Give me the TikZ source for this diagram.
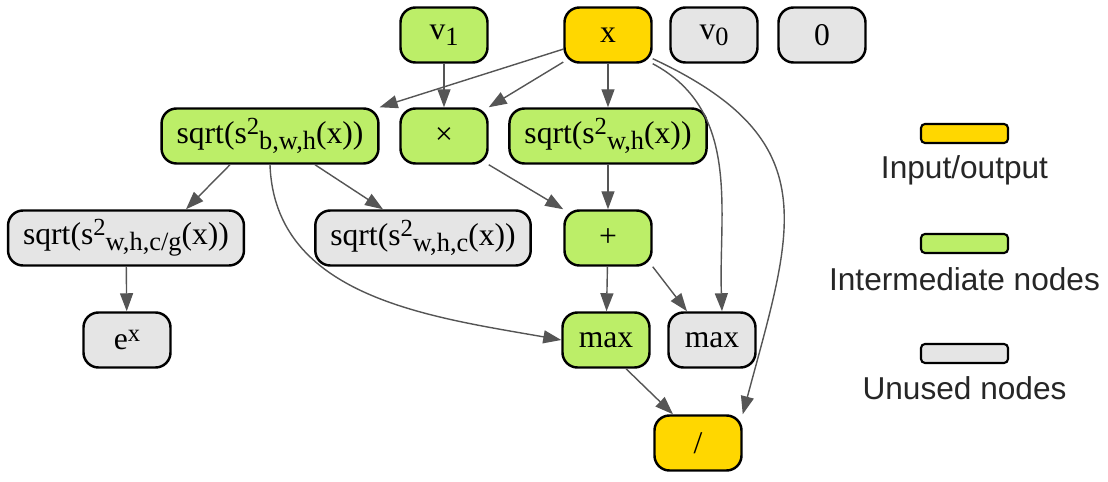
\documentclass[tikz,border=0pt]{standalone}
\usepackage{fontspec}
\setmainfont{Liberation Serif}
\newfontfamily\legendfont{Liberation Sans}
\usetikzlibrary{arrows.meta}
\definecolor{ioyellow}{HTML}{FFD700}
\definecolor{midgreen}{HTML}{BCEE68}
\definecolor{unusedgray}{HTML}{E5E5E5}
\definecolor{edgegray}{HTML}{555555}
\newcommand\nsub[1]{\raisebox{-3.5pt}{\fontsize{15}{15}\selectfont #1}}
\newcommand\nsup[1]{\raisebox{5pt}{\fontsize{14}{14}\selectfont #1}}

\begin{document}
\begin{tikzpicture}[
  op/.style={draw=black,line width=1.4pt,rounded corners=0.3cm,minimum width=1.74cm,
    minimum height=1.1cm,inner xsep=0.3cm,font=\fontsize{18}{21}\selectfont},
  io/.style={op,fill=ioyellow},
  mid/.style={op,fill=midgreen},
  unused/.style={op,fill=unusedgray},
  edge/.style={draw=edgegray,line width=0.8pt,-{Triangle[length=0.36cm,width=0.26cm]}},
  key/.style={draw=black,line width=1.2pt,rounded corners=0.08cm,minimum width=1.74cm,
    minimum height=0.38cm,inner sep=0pt},
  keytext/.style={font=\legendfont\fontsize{18}{22}\selectfont,text=black!85}]
\useasboundingbox (0,0) rectangle (22.16,9.64);

% top row
\node[mid]    (v1)   at (8.88,8.94)  {v\nsub{1}};
\node[io]     (x)    at (12.16,8.94) {x};
\node[unused] (v0)   at (14.28,8.94) {v\nsub{0}};
\node[unused] (zero) at (16.44,8.94) {0};

\node[mid] (sqrtbwh) at (5.40,6.92)  {sqrt(s\nsup{2}\nsub{b,w,h}(x))};
\node[mid] (times)   at (8.88,6.92)  {×};
\node[mid] (sqrtwh)  at (12.16,6.92) {sqrt(s\nsup{2}\nsub{w,h}(x))};

\node[unused] (sqrtcg) at (2.52,4.88)  {sqrt(s\nsup{2}\nsub{w,h,c/g}(x))};
\node[unused] (sqrtc)  at (8.46,4.88)  {sqrt(s\nsup{2}\nsub{w,h,c}(x))};
\node[mid]    (plus)   at (12.16,4.88) {+};

\node[unused] (ex)   at (2.54,2.84)  {e\nsup{x}};
\node[mid]    (maxg) at (12.12,2.84) {max};
\node[unused] (maxu) at (14.24,2.84) {max};

\node[io] (div) at (13.96,0.78) {/};

% connectors
\draw[edge] (x) -- (sqrtbwh.north east);
\draw[edge] (x) -- (times.north east);
\draw[edge] (x) -- (sqrtwh);
\draw[edge] (v1) -- (times);
\draw[edge] (x.south east) to[out=-28,in=92] ([xshift=0.2cm]maxu.north);
\draw[edge] ([yshift=0.1cm]x.south east) to[out=-25,in=75,looseness=1.35] (div.north east);
\draw[edge] ([xshift=-0.8cm]sqrtbwh.south) -- ([xshift=1.2cm]sqrtcg.north);
\draw[edge] ([xshift=0.9cm]sqrtbwh.south) -- ([xshift=-0.8cm]sqrtc.north);
\draw[edge] (sqrtbwh.south) to[out=-88,in=170] (maxg.west);
\draw[edge] (times.south east) -- (plus.north west);
\draw[edge] (sqrtwh) -- (plus);
\draw[edge] (sqrtcg) -- (ex);
\draw[edge] (plus) -- (maxg);
\draw[edge] (plus.south east) -- ([xshift=-0.5cm]maxu.north);
\draw[edge] ([xshift=0.4cm]maxg.south) -- ([xshift=-0.5cm]div.north);

% legend
\node[key,fill=ioyellow]   (keyio)     at (19.29,6.97) {};
\node[keytext]             (keyiot)    at (19.29,6.24) {Input/output};
\node[key,fill=midgreen]   (keymid)    at (19.29,4.77) {};
\node[keytext]             (keymidt)   at (19.29,4.06) {Intermediate nodes};
\node[key,fill=unusedgray] (keyunused) at (19.29,2.57) {};
\node[keytext]             (keyunusedt) at (19.29,1.88) {Unused nodes};
\end{tikzpicture}
\end{document}
